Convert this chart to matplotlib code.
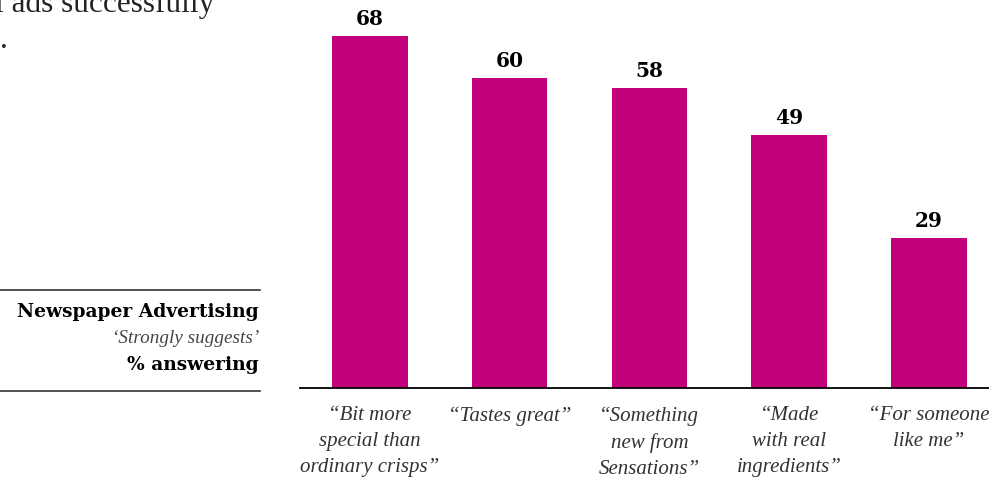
import matplotlib.pyplot as plt
from matplotlib.lines import Line2D

# data
categories = [
    "\u201cBit more\nspecial than\nordinary crisps\u201d",
    "\u201cTastes great\u201d",
    "\u201cSomething\nnew from\nSensations\u201d",
    "\u201cMade\nwith real\ningredients\u201d",
    "\u201cFor someone\nlike me\u201d",
]
values = [68, 60, 58, 49, 29]
legend_lines = ["Newspaper Advertising", "\u2018Strongly suggests\u2019", "% answering"]

W, H = 989, 486
bar_color = "#C1007A"

fig = plt.figure(figsize=(W / 100, H / 100), dpi=100)

# main axes, placed in pixel terms
ax = fig.add_axes([300 / W, (H - 388) / H, (W - 300) / W, 388 / H])
x = range(len(values))
ax.bar(x, values, width=0.54, color=bar_color)
ax.set_xlim(-0.50, 4.43)
ax.set_ylim(0, 75)

for xi, v in zip(x, values):
    ax.annotate(str(v), (xi, v), xytext=(0, 5), textcoords="offset points",
                ha="center", va="bottom", fontsize=14.5, fontweight="bold",
                family="DejaVu Serif")

for side in ["top", "right", "left"]:
    ax.spines[side].set_visible(False)
ax.spines["bottom"].set_linewidth(1.3)
ax.set_yticks([])
ax.set_xticks(list(x))
ax.set_xticklabels(categories, family="Liberation Serif", style="italic",
                   fontsize=15, color="#333333", linespacing=1.5)
ax.tick_params(axis="x", length=0, pad=13)

# left side block
def fx(px):
    return px / W

def fy(py):
    return 1 - py / H

for py in (290, 391):
    fig.add_artist(Line2D([0, fx(260)], [fy(py), fy(py)], color="#333333", lw=1.2))

fig.text(fx(259), fy(312), legend_lines[0], ha="right", va="center",
         family="DejaVu Serif", fontweight="bold", fontsize=13.4)
fig.text(fx(259), fy(338), legend_lines[1], ha="right", va="center",
         family="Liberation Serif", style="italic", fontsize=13.8, color="#444444")
fig.text(fx(259), fy(365), legend_lines[2], ha="right", va="center",
         family="DejaVu Serif", fontweight="bold", fontsize=13.4)

# title fragments cut off at the top left
fig.text(fx(-5), fy(12), "l ads successfully", ha="left", va="baseline",
         family="Liberation Serif", fontsize=22.5, color="#222222")
fig.text(fx(0), fy(48), ".", ha="left", va="baseline",
         family="Liberation Serif", fontsize=22.5, color="#222222")

fig.savefig("out.png", dpi=100)
